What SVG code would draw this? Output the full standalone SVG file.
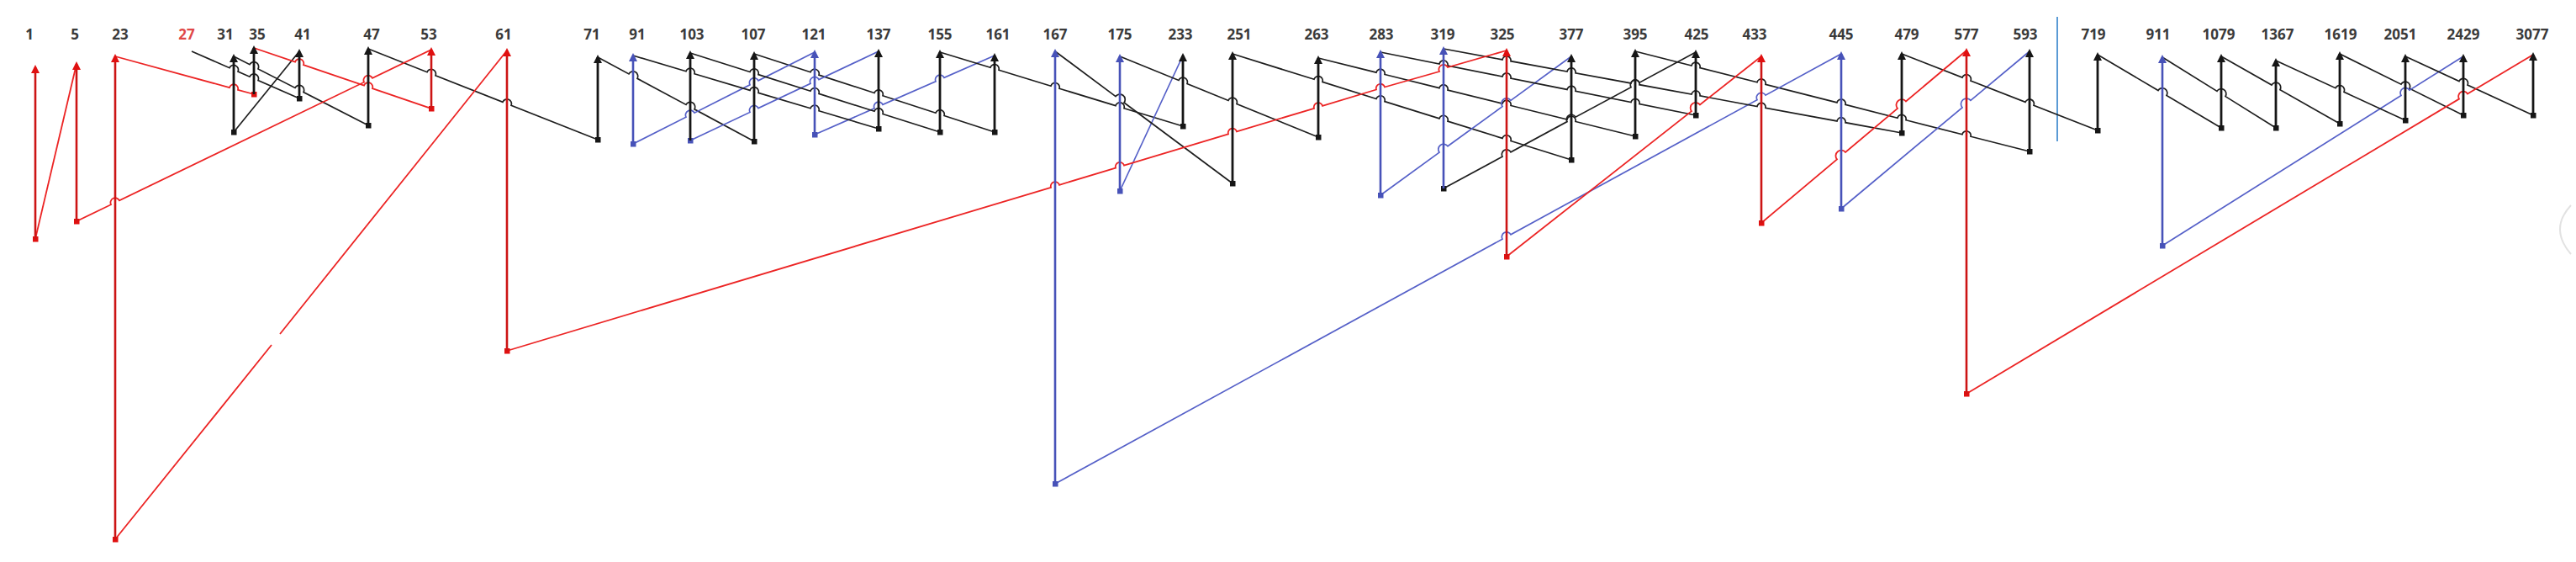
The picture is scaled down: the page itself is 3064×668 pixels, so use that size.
<svg xmlns="http://www.w3.org/2000/svg" width="3064" height="668" viewBox="0 0 3064 668">
<style>
text{font-family:"Open Sans","Liberation Sans",sans-serif;font-size:17px;font-weight:700;fill:#3a3a3a;text-anchor:middle}
text.hl{fill:#e04848}
.vk{stroke:#161616;stroke-width:2.8;fill:none;marker-end:url(#ak)}
.vb{stroke:#4752b8;stroke-width:2.6;fill:none;marker-end:url(#ab)}
.vr{stroke:#cc1414;stroke-width:2.6;fill:none;marker-end:url(#ar)}
.ck{stroke:#1e1e1e;stroke-width:1.7;fill:none;marker-end:url(#sk)}
.cb{stroke:#5560c8;stroke-width:1.7;fill:none;marker-end:url(#sb)}
.cr{stroke:#ec2424;stroke-width:1.8;fill:none;marker-end:url(#sr)}
</style>
<defs>
<marker id="ak" viewBox="0 0 10 10" refX="7" refY="5" markerWidth="10" markerHeight="10" markerUnits="userSpaceOnUse" orient="auto"><path d="M0,0 L10,5 L0,10 z" fill="#161616"/></marker>
<marker id="ab" viewBox="0 0 10 10" refX="7" refY="5" markerWidth="10" markerHeight="10" markerUnits="userSpaceOnUse" orient="auto"><path d="M0,0 L10,5 L0,10 z" fill="#4752b8"/></marker>
<marker id="ar" viewBox="0 0 10 10" refX="7" refY="5" markerWidth="10" markerHeight="10" markerUnits="userSpaceOnUse" orient="auto"><path d="M0,0 L10,5 L0,10 z" fill="#e01010"/></marker>
<marker id="sk" viewBox="0 0 10 10" refX="5" refY="5" markerWidth="7" markerHeight="7" markerUnits="userSpaceOnUse" orient="0"><rect width="10" height="10" fill="#161616"/></marker>
<marker id="sb" viewBox="0 0 10 10" refX="5" refY="5" markerWidth="7" markerHeight="7" markerUnits="userSpaceOnUse" orient="0"><rect width="10" height="10" fill="#4752b8"/></marker>
<marker id="sr" viewBox="0 0 10 10" refX="5" refY="5" markerWidth="7" markerHeight="7" markerUnits="userSpaceOnUse" orient="0"><rect width="10" height="10" fill="#e01010"/></marker>
</defs>
<rect width="3064" height="668" fill="#ffffff"/>
<line x1="2447" y1="20" x2="2447" y2="168" stroke="#5b9bd5" stroke-width="2"/>
<path d="M3058,244 Q3032,272 3058,302" stroke="#e2e2e2" stroke-width="2" fill="none"/>
<g id="connectors">
<path class="ck" d="M228,61 L273,80.7 A5,5 0 0 1 283,85.1 L297,91.2 A5,5 0 0 1 307,95.6 L356,117"/>
<path class="ck" d="M356,61 L278,157"/>
<path class="ck" d="M278,67 L297,76.7 A5,5 0 0 1 307,81.9 L351,104.4 A5,5 0 0 1 361,109.6 L438,149"/>
<path class="ck" d="M438,58 L508,85.7 A5,5 0 0 1 518,89.7 L598,121.3 A5,5 0 0 1 608,125.3 L711,166"/>
<path class="ck" d="M711,68 L748,87.9 A5,5 0 0 1 758,93.3 L816,124.4 A5,5 0 0 1 826,129.8 L897,168"/>
<path class="ck" d="M897,64 L964,85.8 A5,5 0 0 1 974,89.1 L1040,110.5 A5,5 0 0 1 1050,113.7 L1113,134.3 A5,5 0 0 1 1123,137.5 L1183,157"/>
<path class="cb" d="M1183,66 L1123,92.4 A5,5 0 0 0 1113,96.8 L1050,124.4 A5,5 0 0 0 1040,128.8 L969,160"/>
<path class="cb" d="M969,62 L902,95.8 A5,5 0 0 0 892,100.8 L826,134.2 A5,5 0 0 0 816,139.2 L753,171"/>
<path class="ck" d="M753,66 L816,84.8 A5,5 0 0 1 826,87.7 L892,107.4 A5,5 0 0 1 902,110.4 L964,128.8 A5,5 0 0 1 974,131.8 L1045,153"/>
<path class="cb" d="M1045,61 L974,94.6 A5,5 0 0 0 964,99.3 L902,128.6 A5,5 0 0 0 892,133.4 L821,167"/>
<path class="ck" d="M821,63 L892,85.5 A5,5 0 0 1 902,88.6 L964,108.2 A5,5 0 0 1 974,111.4 L1040,132.3 A5,5 0 0 1 1050,135.5 L1118,157"/>
<path class="ck" d="M1118,62 L1178,80.3 A5,5 0 0 1 1188,83.3 L1250,102.2 A5,5 0 0 1 1260,105.2 L1327,125.6 A5,5 0 0 1 1337,128.7 L1407,150"/>
<path class="cb" d="M1407,66 L1332,227"/>
<path class="ck" d="M1332,67 L1402,95.5 A5,5 0 0 1 1412,99.5 L1461,119.5 A5,5 0 0 1 1471,123.5 L1568,163"/>
<path class="ck" d="M1568,69 L1637,86.1 A5,5 0 0 1 1647,88.5 L1712,104.6 A5,5 0 0 1 1722,107.1 L1787,123.1 A5,5 0 0 1 1797,125.5 L1864,142 A5,5 0 0 1 1874,144.5 L1945,162"/>
<path class="ck" d="M1945,61 L2012,78 A5,5 0 0 1 2022,80.6 L2090,97.8 A5,5 0 0 1 2100,100.3 L2185,121.9 A5,5 0 0 1 2195,124.4 L2257,140.2 A5,5 0 0 1 2267,142.7 L2334,159.7 A5,5 0 0 1 2344,162.2 L2414,180"/>
<path class="cb" d="M2414,61 L2344,119.4 A5,5 0 0 0 2334,127.8 L2190,248"/>
<path class="cb" d="M2190,64 L2100,113.2 A5,5 0 0 0 2090,118.7 L1797,278.8 A5,5 0 0 0 1787,284.2 L1255,575"/>
<path class="ck" d="M1255,61 L1327,114.6 A5,5 0 0 1 1337,122 L1466,218"/>
<path class="ck" d="M1466,64 L1563,94.3 A5,5 0 0 1 1573,97.4 L1637,117.5 A5,5 0 0 1 1647,120.6 L1712,140.9 A5,5 0 0 1 1722,144.1 L1787,164.4 A5,5 0 0 1 1797,167.5 L1869,190"/>
<path class="cb" d="M1869,67 L1797,119.4 A5,5 0 0 0 1787,126.6 L1722,173.8 A5,5 0 0 0 1712,181.1 L1642,232"/>
<path class="ck" d="M1642,62 L1712,76 A5,5 0 0 1 1722,78 L1787,91 A5,5 0 0 1 1797,93 L1864,106.4 A5,5 0 0 1 1874,108.4 L1940,121.6 A5,5 0 0 1 1950,123.6 L2017,137"/>
<path class="ck" d="M2017,62 L1950,98.2 A5,5 0 0 0 1940,103.7 L1874,139.2 A5,5 0 0 0 1864,144.6 L1797,180.8 A5,5 0 0 0 1787,186.2 L1717,224"/>
<path class="ck" d="M1717,58 L1787,70.9 A5,5 0 0 1 1797,72.7 L1864,85 A5,5 0 0 1 1874,86.8 L1940,98.9 A5,5 0 0 1 1950,100.7 L2012,112.1 A5,5 0 0 1 2022,113.9 L2090,126.5 A5,5 0 0 1 2100,128.3 L2185,143.9 A5,5 0 0 1 2195,145.7 L2262,158"/>
<path class="ck" d="M2262,64 L2334,92.1 A5,5 0 0 1 2344,96 L2409,121.4 A5,5 0 0 1 2419,125.3 L2495,155"/>
<path class="ck" d="M2495,65 L2567,107.6 A5,5 0 0 1 2577,113.5 L2642,152"/>
<path class="ck" d="M2642,67 L2702,101 A5,5 0 0 1 2712,106.7 L2783,147"/>
<path class="ck" d="M2783,64 L2856,100.2 A5,5 0 0 1 2866,105.2 L2930,137"/>
<path class="cb" d="M2930,67 L2866,107.2 A5,5 0 0 0 2856,113.5 L2572,292"/>
<path class="ck" d="M2572,68 L2637,108.4 A5,5 0 0 1 2647,114.6 L2707,152"/>
<path class="ck" d="M2707,72 L2778,104.7 A5,5 0 0 1 2788,109.3 L2861,143"/>
<path class="ck" d="M2861,67 L2925,96.5 A5,5 0 0 1 2935,101.1 L3013,137"/>
<path class="cr" d="M3013,65 L2935,111.6 A5,5 0 0 0 2925,117.6 L2339,468"/>
<path class="cr" d="M2339,60 L2267,120.5 A5,5 0 0 0 2257,128.9 L2195,181 A5,5 0 0 0 2185,189.4 L2095,265"/>
<path class="cr" d="M2095,67 L2022,124.4 A5,5 0 0 0 2012,132.2 L1792,305"/>
<path class="cr" d="M1792,60 L1722,80 A5,5 0 0 0 1712,85 L1647,103.5 A5,5 0 0 0 1637,106.5 L1573,125.8 A5,5 0 0 0 1563,128.8 L1471,156.4 A5,5 0 0 0 1461,159.4 L1337,196.6 A5,5 0 0 0 1327,199.6 L1260,219.8 A5,5 0 0 0 1250,222.8 L603,417"/>
<path class="cr" d="M603,60 L333,397 M323,410 L137,641"/>
<path class="cr" d="M137,67 L273,104.1 A5,5 0 0 1 283,106.8 L302,112"/>
<path class="cr" d="M302,57 L351,73.7 A5,5 0 0 1 361,77.1 L433,101.7 A5,5 0 0 1 443,105.1 L513,129"/>
<path class="cr" d="M513,59 L443,92.9 A5,5 0 0 0 433,97.7 L142,238.4 A5,5 0 0 0 132,243.2 L91,263"/>
<path class="cr" d="M91,76 L42,284"/>
</g>
<g id="n1"><path class="vr" d="M42,284 V80"/><text x="35" y="47">1</text></g>
<g id="n5"><path class="vr" d="M91,263 V76"/><text x="89" y="47">5</text></g>
<g id="n23"><path class="vr" d="M137,641 V67"/><text x="143" y="47">23</text></g>
<g id="n27"><text class="hl" x="222" y="47">27</text></g>
<g id="n31"><path class="vk" d="M278,157 V67"/><text x="268" y="47">31</text></g>
<g id="n35"><path class="vk" d="M302,112 V57"/><text x="306" y="47">35</text></g>
<g id="n41"><path class="vk" d="M356,117 V61"/><text x="360" y="47">41</text></g>
<g id="n47"><path class="vk" d="M438,149 V58"/><text x="442" y="47">47</text></g>
<g id="n53"><path class="vr" d="M513,129 V59"/><text x="510" y="47">53</text></g>
<g id="n61"><path class="vr" d="M603,417 V60"/><text x="599" y="47">61</text></g>
<g id="n71"><path class="vk" d="M711,166 V68"/><text x="704" y="47">71</text></g>
<g id="n91"><path class="vb" d="M753,171 V66"/><text x="758" y="47">91</text></g>
<g id="n103"><path class="vk" d="M821,167 V63"/><text x="823" y="47">103</text></g>
<g id="n107"><path class="vk" d="M897,168 V64"/><text x="896" y="47">107</text></g>
<g id="n121"><path class="vb" d="M969,160 V62"/><text x="968" y="47">121</text></g>
<g id="n137"><path class="vk" d="M1045,153 V61"/><text x="1045" y="47">137</text></g>
<g id="n155"><path class="vk" d="M1118,157 V62"/><text x="1118" y="47">155</text></g>
<g id="n161"><path class="vk" d="M1183,157 V66"/><text x="1187" y="47">161</text></g>
<g id="n167"><path class="vb" d="M1255,575 V61"/><text x="1255" y="47">167</text></g>
<g id="n175"><path class="vb" d="M1332,227 V67"/><text x="1332" y="47">175</text></g>
<g id="n233"><path class="vk" d="M1407,150 V66"/><text x="1404" y="47">233</text></g>
<g id="n251"><path class="vk" d="M1466,218 V64"/><text x="1474" y="47">251</text></g>
<g id="n263"><path class="vk" d="M1568,163 V69"/><text x="1566" y="47">263</text></g>
<g id="n283"><path class="vb" d="M1642,232 V62"/><text x="1643" y="47">283</text></g>
<g id="n319"><path class="vb" d="M1717,224 V58"/><text x="1716" y="47">319</text></g>
<g id="n325"><path class="vr" d="M1792,305 V60"/><text x="1787" y="47">325</text></g>
<g id="n377"><path class="vk" d="M1869,190 V67"/><text x="1869" y="47">377</text></g>
<g id="n395"><path class="vk" d="M1945,162 V61"/><text x="1945" y="47">395</text></g>
<g id="n425"><path class="vk" d="M2017,137 V62"/><text x="2018" y="47">425</text></g>
<g id="n433"><path class="vr" d="M2095,265 V67"/><text x="2087" y="47">433</text></g>
<g id="n445"><path class="vb" d="M2190,248 V64"/><text x="2190" y="47">445</text></g>
<g id="n479"><path class="vk" d="M2262,158 V64"/><text x="2268" y="47">479</text></g>
<g id="n577"><path class="vr" d="M2339,468 V60"/><text x="2339" y="47">577</text></g>
<g id="n593"><path class="vk" d="M2414,180 V61"/><text x="2409" y="47">593</text></g>
<g id="n719"><path class="vk" d="M2495,155 V65"/><text x="2490" y="47">719</text></g>
<g id="n911"><path class="vb" d="M2572,292 V68"/><text x="2567" y="47">911</text></g>
<g id="n1079"><path class="vk" d="M2642,152 V67"/><text x="2639" y="47">1079</text></g>
<g id="n1367"><path class="vk" d="M2707,152 V72"/><text x="2709" y="47">1367</text></g>
<g id="n1619"><path class="vk" d="M2783,147 V64"/><text x="2784" y="47">1619</text></g>
<g id="n2051"><path class="vk" d="M2861,143 V67"/><text x="2855" y="47">2051</text></g>
<g id="n2429"><path class="vk" d="M2930,137 V67"/><text x="2930" y="47">2429</text></g>
<g id="n3077"><path class="vk" d="M3013,137 V65"/><text x="3012" y="47">3077</text></g>
</svg>
